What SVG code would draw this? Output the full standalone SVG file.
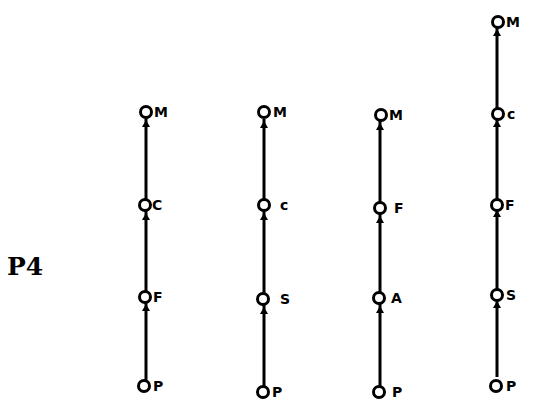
<svg xmlns="http://www.w3.org/2000/svg" width="533" height="403" viewBox="0 0 533 403">
<defs>
<style>
.n{fill:#fff;stroke:#000;stroke-width:3}
.e{stroke:#000;stroke-width:3;fill:none}
.l{font-family:"DejaVu Sans",sans-serif;font-weight:bold;font-size:14px;fill:#000}
.t{font-family:"DejaVu Serif",serif;font-weight:bold;font-size:25px;fill:#000}
</style>
</defs>
<rect width="533" height="403" fill="#fff"/>
<text class="t" x="7" y="275">P4</text>
<g id="connectors">
<line class="e" x1="146" y1="380" x2="146" y2="118"/>
<line class="e" x1="264" y1="386" x2="264" y2="119"/>
<line class="e" x1="380" y1="387" x2="380" y2="121"/>
<line class="e" x1="497" y1="377" x2="497" y2="28"/>
<g fill="#000">
<path d="M142,127 L146,120 L150,127 Z"/>
<path d="M142,220 L146,213 L150,220 Z"/>
<path d="M142,311 L146,304 L150,311 Z"/>
<path d="M260,128 L264,121 L268,128 Z"/>
<path d="M260,220 L264,213 L268,220 Z"/>
<path d="M260,314 L264,307 L268,314 Z"/>
<path d="M376,130 L380,123 L384,130 Z"/>
<path d="M376,223 L380,216 L384,223 Z"/>
<path d="M376,313 L380,306 L384,313 Z"/>
<path d="M493,36 L497,29 L501,36 Z"/>
<path d="M493,127 L497,120 L501,127 Z"/>
<path d="M493,217 L497,210 L501,217 Z"/>
<path d="M493,308 L497,301 L501,308 Z"/>
</g>
</g>
<g id="c1M"><circle class="n" cx="146" cy="112" r="5.5"/><text class="l" x="154" y="117">M</text></g>
<g id="c1C"><circle class="n" cx="145" cy="205" r="5.5"/><text class="l" x="152" y="210">C</text></g>
<g id="c1F"><circle class="n" cx="145" cy="297" r="5.5"/><text class="l" x="153" y="302">F</text></g>
<g id="c1P"><circle class="n" cx="144" cy="386" r="5.5"/><text class="l" x="153" y="391">P</text></g>
<g id="c2M"><circle class="n" cx="264" cy="112" r="5.5"/><text class="l" x="273" y="117">M</text></g>
<g id="c2C"><circle class="n" cx="264" cy="205" r="5.5"/><text class="l" x="280" y="210">c</text></g>
<g id="c2S"><circle class="n" cx="263" cy="299" r="5.5"/><text class="l" x="280" y="304">S</text></g>
<g id="c2P"><circle class="n" cx="263" cy="392" r="5.5"/><text class="l" x="272" y="397">P</text></g>
<g id="c3M"><circle class="n" cx="381" cy="115" r="5.5"/><text class="l" x="389" y="120">M</text></g>
<g id="c3F"><circle class="n" cx="380" cy="208" r="5.5"/><text class="l" x="394" y="213">F</text></g>
<g id="c3A"><circle class="n" cx="379" cy="298" r="5.5"/><text class="l" x="391" y="303">A</text></g>
<g id="c3P"><circle class="n" cx="379" cy="392" r="5.5"/><text class="l" x="392" y="397">P</text></g>
<g id="c4M"><circle class="n" cx="498" cy="22" r="5.5"/><text class="l" x="506" y="27">M</text></g>
<g id="c4C"><circle class="n" cx="498" cy="114" r="5.5"/><text class="l" x="507" y="119">c</text></g>
<g id="c4F"><circle class="n" cx="497" cy="205" r="5.5"/><text class="l" x="505" y="210">F</text></g>
<g id="c4S"><circle class="n" cx="497" cy="295" r="5.5"/><text class="l" x="506" y="300">S</text></g>
<g id="c4P"><circle class="n" cx="496" cy="386" r="5.5"/><text class="l" x="506" y="391">P</text></g>
</svg>
